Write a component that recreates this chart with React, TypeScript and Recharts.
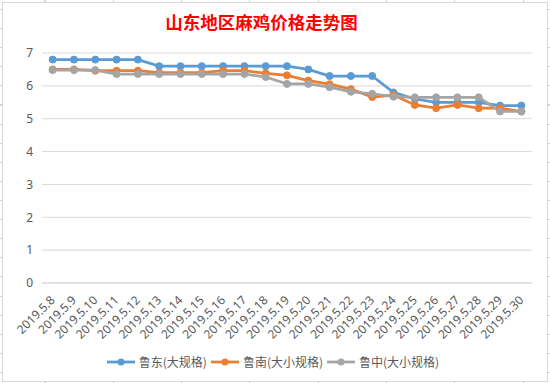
import React from "react";
import { LineChart, Line, XAxis, YAxis, CartesianGrid } from "recharts";

const categories = [
  "2019.5.8", "2019.5.9", "2019.5.10", "2019.5.11", "2019.5.12", "2019.5.13",
  "2019.5.14", "2019.5.15", "2019.5.16", "2019.5.17", "2019.5.18", "2019.5.19",
  "2019.5.20", "2019.5.21", "2019.5.22", "2019.5.23", "2019.5.24", "2019.5.25",
  "2019.5.26", "2019.5.27", "2019.5.28", "2019.5.29", "2019.5.30",
];
const ludong = [6.8, 6.8, 6.8, 6.8, 6.8, 6.6, 6.6, 6.6, 6.6, 6.6, 6.6, 6.6, 6.5, 6.3, 6.3, 6.3, 5.8, 5.6, 5.5, 5.5, 5.5, 5.4, 5.4];
const lunan = [6.5, 6.5, 6.46, 6.46, 6.46, 6.4, 6.4, 6.4, 6.46, 6.46, 6.38, 6.32, 6.16, 6.05, 5.9, 5.66, 5.72, 5.42, 5.32, 5.42, 5.32, 5.32, 5.22];
const luzhong = [6.48, 6.48, 6.48, 6.36, 6.36, 6.36, 6.36, 6.36, 6.36, 6.36, 6.27, 6.06, 6.06, 5.96, 5.82, 5.76, 5.67, 5.65, 5.65, 5.65, 5.65, 5.22, 5.22];
const yTicks = [0, 1, 2, 3, 4, 5, 6, 7];
const seriesNames = ["鲁东(大规格)", "鲁南(大小规格)", "鲁中(大小规格)"];
const seriesColors = ["#5B9BD5", "#ED7D31", "#A5A5A5"];
const seriesKeys = ["ludong", "lunan", "luzhong"];
const title = "山东地区麻鸡价格走势图";

const data = categories.map((c, i) => ({
  name: c,
  ludong: ludong[i],
  lunan: lunan[i],
  luzhong: luzhong[i],
}));

const TEXT = "#595959";
const FONT = "'Noto Sans', 'Noto Sans CJK SC', sans-serif";

const XTick = (props: any) => {
  const { x, y, payload } = props;
  const tx = x + 3;
  const ty = y + 10;
  return (
    <text
      x={tx}
      y={ty}
      transform={`rotate(-45, ${tx}, ${ty})`}
      textAnchor="end"
      fill={TEXT}
      fontSize={12}
      fontFamily={FONT}
    >
      {payload.value}
    </text>
  );
};

export default function App() {
  return (
    <div
      style={{
        position: "absolute",
        left: 0,
        top: 0,
        width: 550,
        height: 383,
        background: "#fff",
        backgroundImage:
          "repeating-linear-gradient(to right, transparent 0px, transparent 44.5px, #d4d4d4 44.5px, #d4d4d4 45.5px, transparent 45.5px, transparent 68.3px), repeating-linear-gradient(to bottom, transparent 0px, transparent 9px, #d4d4d4 9px, #d4d4d4 10px, transparent 10px, transparent 19.1px)",
        overflow: "hidden",
      }}
    >
      <div
        style={{
          position: "absolute",
          left: 2,
          top: 2,
          width: 544,
          height: 378,
          background: "#fff",
          border: "1px solid #d9d9d9",
        }}
      />
      <div
        style={{
          position: "absolute",
          left: 0,
          width: 523,
          top: 10,
          textAlign: "center",
          color: "#FF0000",
          fontFamily: "'Noto Sans CJK SC', sans-serif",
          fontWeight: 700,
          fontSize: 17.5,
          lineHeight: "24px",
        }}
      >
        {title}
      </div>
      <div style={{ position: "absolute", left: 0, top: 0 }}>
        <LineChart
          width={550}
          height={383}
          data={data}
          margin={{ top: 53, right: 18, left: 0, bottom: 0 }}
        >
          <CartesianGrid vertical={false} stroke="#d9d9d9" strokeWidth={1} />
          <XAxis
            dataKey="name"
            height={100}
            interval={0}
            padding={{ left: 10.65, right: 10.65 }}
            axisLine={{ stroke: "#d9d9d9" }}
            tickLine={false}
            tick={<XTick />}
          />
          <YAxis
            width={42}
            domain={[0, 7]}
            ticks={yTicks}
            axisLine={false}
            tickLine={false}
            tickSize={0}
            tickMargin={9}
            tick={{ fill: TEXT, fontSize: 12, fontFamily: FONT }}
          />
          {seriesKeys.map((k, i) => (
            <Line
              key={k}
              type="linear"
              dataKey={k}
              name={seriesNames[i]}
              stroke={seriesColors[i]}
              strokeWidth={2.75}
              dot={{ r: 3.5, fill: seriesColors[i], stroke: seriesColors[i], strokeWidth: 1 }}
              isAnimationActive={false}
            />
          ))}
        </LineChart>
      </div>
      <div
        style={{
          position: "absolute",
          left: 0,
          width: 546,
          top: 352,
          display: "flex",
          justifyContent: "center",
          alignItems: "center",
          fontFamily: "'Noto Sans CJK SC', sans-serif",
          fontSize: 12,
          color: TEXT,
          lineHeight: "20px",
        }}
      >
        {seriesNames.map((n, i) => (
          <div key={n} style={{ display: "flex", alignItems: "center", marginRight: i < 2 ? 4 : 0 }}>
            <svg width={28} height={10} style={{ marginRight: 4 }}>
              <line x1={0} y1={5} x2={28} y2={5} stroke={seriesColors[i]} strokeWidth={2.75} />
              <circle cx={14} cy={5} r={3.5} fill={seriesColors[i]} />
            </svg>
            <span>{n}</span>
          </div>
        ))}
      </div>
    </div>
  );
}
